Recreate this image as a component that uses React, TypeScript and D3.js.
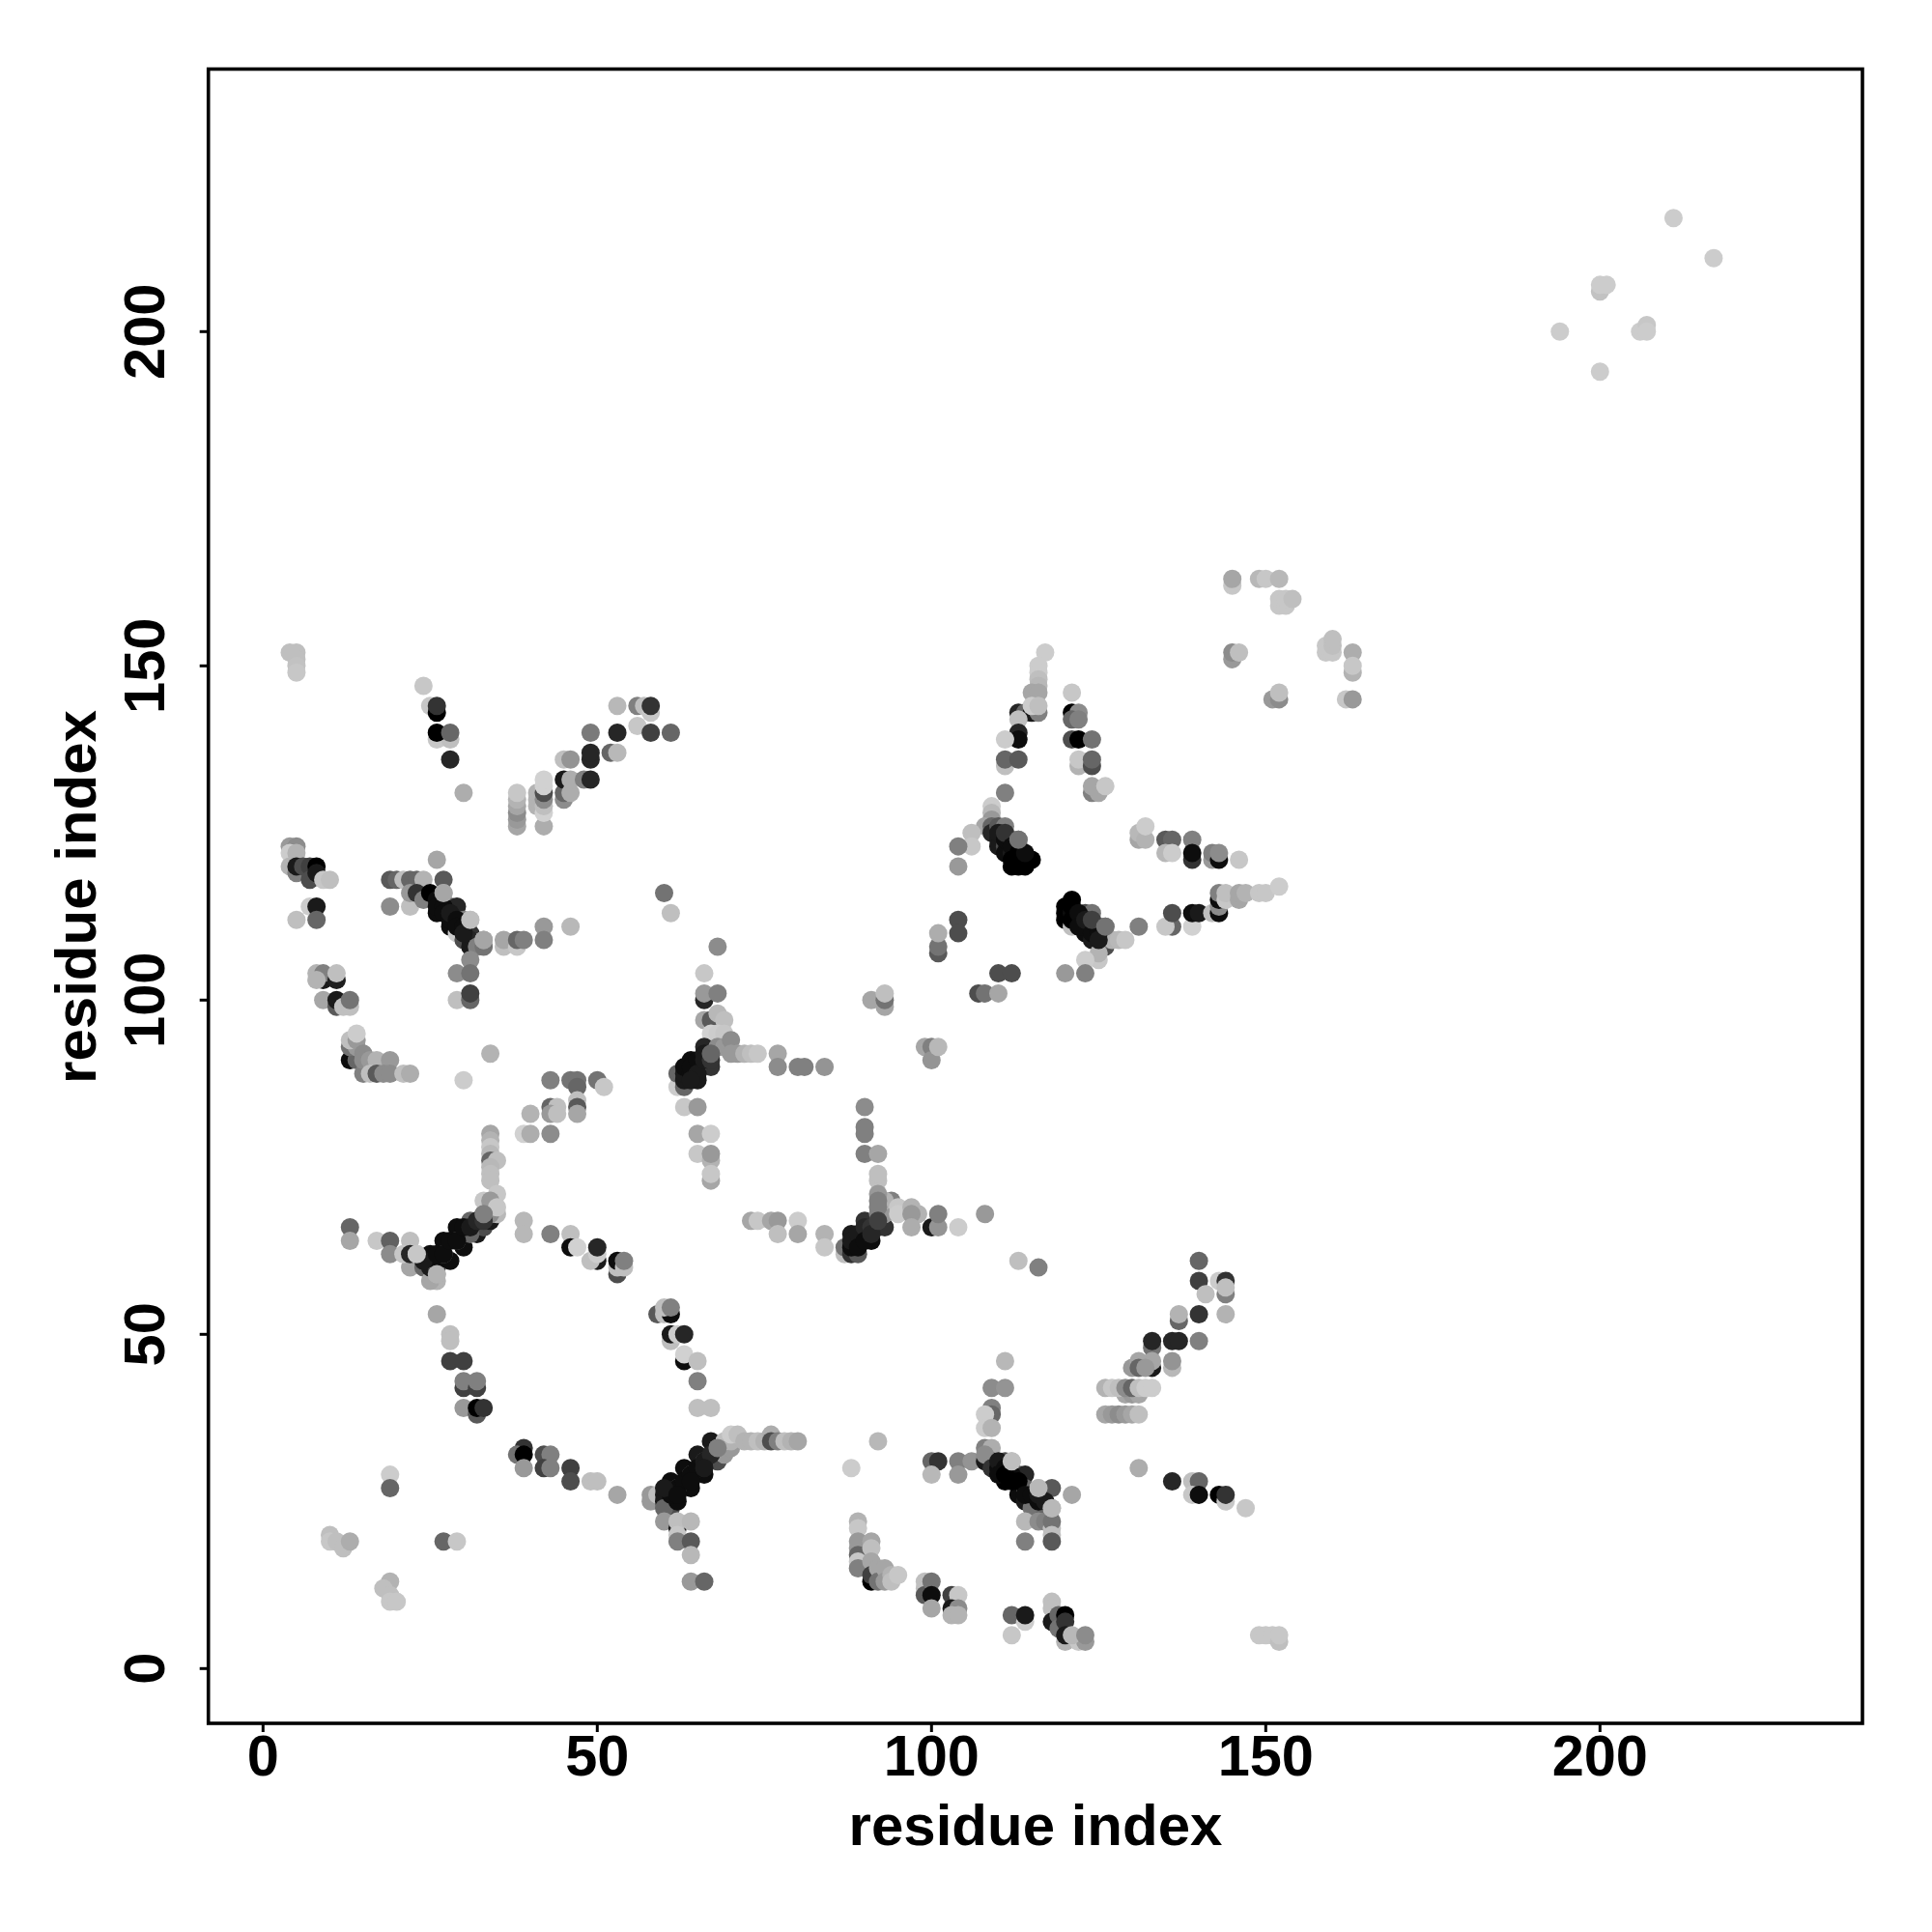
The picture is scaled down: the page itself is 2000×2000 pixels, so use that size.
import React from "react";
import * as d3 from "d3";

type P = [number, number, number];

// residue i, residue j, grey level of the contact (0 = black, 1 = white)
const lowerLeft: P[] = [
[13,66,.4],[13,64,.65],[17,64,.78],[19,64,.38],[19,62,.55],[22,64,.75],[22,60,.65],[21,62,.78],[22,62,.15],[23,62,.78],
[24,60,.4],[26,58,.7],[25,58,.65],[26,59,.7],[25,60,.1],[26,60,.25],[25,62,.05],[27,64,.05],[26,61,.05],[28,61,.05],[29,66,.05],[30,63,.05],[32,65,.1],[31,67,.4],[33,66,.3],[34,67,.1],[33,68,.5],[35,68,.72],[34,68,.55],[34,69,.6],[32,67,.3],[31,65,.4],[29,64,.4],[27,62,.4],
[26,53,.65],[28,50,.75],[28,49,.75],[28,46,.25],[30,46,.25],[30,42,.25],[30,43,.5],[32,42,.25],[32,43,.5],[30,39,.6],[32,38,.35],[32,39,0],[33,39,.2],
[39,67,.72],[39,65,.72],[43,65,.5],[46,65,.75],[46,63,.05],[47,63,.82],[50,61,.1],[49,61,.75],[50,62,.8],[50,63,.15],[53,59,.3],[53,60,.75],[53,61,.05],[54,60,.75],[54,61,.5],
[59,53,.35],[60,53,.75],[61,53,.05],[60,54,.75],[61,54,.5],[61,49,.75],[61,50,.1],[62,50,.8],[63,50,.15],[63,46,.05],[63,47,.82],[65,46,.75],[65,43,.5],[65,39,.75],[67,39,.75],
[39,33,.2],[38,32,.45],[39,32,0],[39,30,.6],[42,32,.3],[43,32,.5],[42,30,.25],[43,30,.5],[46,30,.25],[46,28,.3],[49,28,.75],[50,28,.75],[53,26,.65],
[58,26,.6],[58,25,.6],[59,26,.75],[60,26,.1],[60,25,.1],[61,24,.3],[60,24,.4],[61,28,.05],[62,25,.05],[63,30,.05],[64,27,.05],[65,32,.1],[66,29,.05],[67,34,.1],[68,31,.3],[66,31,.4],[64,29,.4],[62,27,.4],[68,33,.5],[69,32,.6],[70,33,.6],[69,34,.75],[70,34,.7],[70,35,.8],
[60,22,.6],[62,21,.1],[62,22,.75],[64,22,.72],[62,20,.78],[62,19,.5],[64,19,.35],[64,17,.72],[64,13,.6],[66,13,.4],
[19,29,.8],[19,27,.4],[10,20,.75],[10,19,.78],[11,19,.75],[12,18,.75],[13,19,.68],[27,19,.4],[29,19,.78],
[19,13,.7],[18,12,.75],[19,11,.75],[19,10,.78],[20,10,.78],
];

const lowerMiddle: P[] = [
[71,35,.75],[72,34,.7],[73,34,.7],[74,34,.75],[75,34,.7],[76,35,.68],[76,34,.3],[77,34,.5],[78,34,.75],[79,34,.7],[80,34,.65],[92,34,.72],[88,30,.8],
[73,67,.65],[74,67,.78],[76,67,.65],[77,67,.6],[80,67,.8],[77,65,.75],[80,65,.65],[84,65,.7],[84,63,.78],
[87,62,.75],[87,63,.45],[88,62,.2],[89,62,.35],[88,63,.05],[89,64,.1],[88,65,.1],[91,64,.05],[90,67,.2],[92,66,.2],[93,66,.2],[90,65,.3],[92,68,.5],[93,68,.6],[94,70,.5],[93,70,.7],[95,69,.78],[95,68,.8],[97,69,.7],[98,68,.7],[97,68,.6],[97,66,.68],[100,66,.1],[101,66,.58],[101,68,.5],[104,66,.8],[108,68,.6],
[113,61,.75],[116,60,.5],
[100,31,.4],[101,31,.2],[100,29,.72],[104,31,.5],[104,29,.6],[106,31,.58],
[109,42,.55],[111,42,.58],[111,46,.72],[109,39,.5],[109,38,.4],[108,38,.8],[108,36,.8],[109,36,.7],[108,33,.5],[109,33,.68],
[108,31,.1],[109,31,.1],[108,32,.55],[109,30,.2],[110,30,.05],[111,28,.0],[111,31,.3],[112,31,.75],[113,29,.4],[114,29,.15],[113,26,.05],[114,27,.4],[115,25,.05],[116,24,.1],[114,25,.1],[115,24,.45],[116,27,.72],[118,27,.35],[121,26,.65],[117,24,.5],[117,23,.4],[114,22,.72],[116,22,.55],[117,22,.5],[118,21,.75],[118,22,.45],[118,24,.72],[118,20,.75],[114,19,.5],[118,19,.35],
[89,22,.7],[89,21,.78],[89,19,.6],[89,18,.6],[89,17,.4],[89,16,.78],[89,15,.5],[91,19,.65],[91,18,.75],[91,16,.65],[91,13,0],[91,14,.25],[92,15,.65],[92,13,.45],[93,15,.65],[93,13,.6],[94,14,.7],[94,13,.75],[95,14,.78],
[99,13,.75],[99,12,.75],[99,11,.35],[100,13,.45],[100,11,.05],[100,9,.65],[103,11,.25],[104,11,.78],[103,9,.1],[104,9,.55],[103,8,.7],[104,8,.7],
[112,8,.4],[114,7,.8],[114,8,.1],[112,5,.78],[118,10,.75],[118,9,.75],[118,7,.1],[119,8,.4],[120,8,0],[119,6,.45],[120,7,.2],[120,4,.7],[120,5,.1],[122,4,.78],[123,4,.6],[121,5,.72],[123,5,.55],
];

const lowerRight: P[] = [
[140,61,.4],[140,58,.25],[143,58,.8],[144,58,.2],[144,56,.5],[144,57,.75],[141,56,.75],[140,53,.2],[144,53,.7],[137,52,.4],[137,53,.7],[133,48,.45],[133,49,.15],[136,49,.15],[137,49,.15],[140,49,.5],
[136,45,.72],[136,46,.58],[133,45,.1],[133,46,.65],[130,45,.6],[131,46,.65],[131,45,.4],[132,45,.6],
[129,41,.65],[130,41,.6],[131,41,.65],[126,42,.7],[127,42,.78],[128,42,.75],[129,42,.55],[130,42,.4],[131,42,.75],[132,42,.8],[133,42,.8],
[126,38,.65],[127,38,.6],[128,38,.55],[129,38,.6],[130,38,.65],[131,38,.75],
[131,30,.68],[136,28,.15],[139,28,.75],[140,28,.4],[139,26,.78],[140,26,.05],[143,26,0],[144,25,.78],[144,26,.2],[147,24,.78],
[149,5,.78],[150,5,.78],[151,5,.78],[152,4,.75],[152,5,.78],
];

const middleLeft: P[] = [
[4,123,.6],[5,123,.55],[4,122,.8],[5,122,.7],[4,120,.7],[5,119,.5],[5,120,.1],[6,120,.3],[7,120,.25],[8,120,0],[7,118,.3],[8,119,.1],[9,118,.78],[10,118,.75],
[7,114,.8],[8,114,.1],[5,112,.75],[8,112,.4],
[19,118,.35],[20,118,.4],[21,118,.75],[22,118,.4],[23,118,.4],[24,118,.7],[26,121,.65],[27,118,.35],[19,114,.55],[22,114,.75],
[22,116,.6],[23,116,.2],[24,115,.5],[25,116,0],[27,116,.65],[28,114,.4],[29,114,.15],[26,113,.05],[28,111,.05],[29,110,.8],[30,112,.5],[31,112,.75],[31,110,.2],[30,109,.3],[31,109,.15],[31,108,.1],[32,108,.5],[33,108,.45],[33,109,.65],[31,106,.55],
[29,104,.55],[31,104,.45],[29,100,.75],[31,100,.4],[31,101,.25],
[36,108,.75],[36,109,.65],[38,108,.78],[38,109,.4],[39,109,.5],[42,111,.6],[42,109,.5],[46,111,.72],[60,116,.45],[61,113,.75],
[8,104,.7],[9,103,.1],[9,104,.5],[11,103,.12],[11,104,.75],[8,103,.7],[9,100,.65],[11,99,.35],[11,100,.1],[12,99,.75],[13,99,.75],[13,100,.45],
[13,91,.05],[14,91,.4],[15,89,.5],[13,93,.45],[14,93,.6],[13,94,.75],[14,94,.6],[14,95,.8],[15,92,.55],[15,91,.55],[16,91,.6],[17,91,.7],[19,91,.6],[16,89,.75],[17,89,.35],[18,89,.55],[19,89,.55],[21,89,.75],[22,89,.68],
[34,92,.7],[30,88,.8],
[43,88,.5],[46,88,.45],[47,88,.45],[47,87,.4],[50,88,.45],[51,87,.78],[47,85,.75],[47,84,.35],[47,83,.65],[40,83,.7],[43,84,.4],[44,84,.75],[43,83,.6],[44,83,.75],[39,80,.82],[40,80,.68],[43,80,.55],
[34,80,.65],[34,79,.7],[34,78,.78],[34,77,.72],[34,76,.4],[35,76,.75],[34,75,.72],[34,74,.75],[34,73,.75],[35,71,.78],[33,70,.78],[34,70,.6],[35,69,.78],
];

const middleCentre: P[] = [
[68,108,.55],[66,104,.78],[66,100,.15],[66,101,.6],[68,101,.5],[66,97,.65],[67,97,.35],[68,98,.72],[69,97,.75],[67,95,.82],[68,95,.8],[69,95,.78],
[62,87,.8],[62,89,.4],[63,87,.4],[63,88,.1],[63,89,.1],[64,91,.05],[65,88,.1],[66,93,.15],[67,90,.2],[65,90,.4],[67,92,.4],[68,93,.55],[69,93,.6],[70,94,.55],[71,92,.6],[70,92,.6],[72,92,.7],[73,92,.75],[74,92,.78],[77,92,.65],[77,90,.55],[80,90,.5],[81,90,.5],[84,90,.58],
[63,84,.78],[65,84,.6],[65,80,.65],[67,80,.8],[65,77,.78],[67,76,.7],[67,77,.6],[67,73,.65],[67,74,.78],
[91,100,.65],[93,99,.65],[93,100,.45],[93,101,.75],[99,93,.65],[100,93,.5],[100,91,.58],[101,93,.72],
[90,84,.55],[90,81,.5],[90,80,.5],[90,77,.5],[92,77,.65],[92,73,.75],[92,74,.75],[92,71,.6],[92,70,.5],[92,69,.5],
[101,107,.35],[101,108,.45],[101,110,.68],[104,112,.3],[104,110,.3],[110,104,.3],[112,104,.3],[107,101,.3],[108,101,.45],[110,101,.65],
];

const upperLeft: P[] = [
[4,152,.75],[5,152,.75],[5,151,.75],[5,150,.76],[5,149,.78],[24,147,.78],[25,144,.78],[26,143,0],[26,144,.2],[26,139,.78],[28,139,.75],[26,140,0],[28,140,.4],[28,136,.15],[30,131,.68],
[38,126,.65],[38,127,.6],[38,128,.55],[38,129,.65],[38,130,.7],[38,131,.78],
[41,129,.7],[41,130,.7],[41,131,.7],[42,126,.68],[42,128,.82],[42,129,.75],[42,130,.55],[42,131,.3],[42,132,.82],[42,133,.82],
[45,130,.55],[45,131,.4],[45,133,.1],[45,136,.75],[46,136,.58],[46,131,.68],[46,133,.68],[48,133,.5],[49,133,.15],[49,136,.15],[49,137,.15],[49,140,.48],[52,137,.4],[53,137,.72],[53,140,.15],[53,144,.72],
[56,144,.5],[57,144,.75],[58,143,.78],[58,144,.2],[56,141,.78],[58,140,.25],[61,140,.4],
];

const upperCentre: P[] = [
[117,152,.8],[116,150,.8],[116,149,.8],[116,148,.75],[116,147,.72],[115,146,.65],[116,146,.65],[113,143,.15],[114,143,.4],[115,143,.1],[116,143,.5],[113,142,.75],[115,144,.8],[116,144,.75],
[113,140,.15],[113,139,.05],[111,139,.8],[111,135,.75],[111,136,.4],[113,136,.35],[111,131,.5],
[109,129,.8],[109,128,.72],[109,127,.6],[108,126,.65],[109,126,.4],[106,125,.75],[106,123,.78],[104,123,.5],[104,120,.6],
[109,125,.15],[110,126,.35],[111,126,.5],[110,124,.1],[112,124,.55],[113,124,.45],[110,123,.1],[111,123,.3],[113,123,.25],[111,122,.05],[112,122,.1],[113,121,0],[115,121,0],[112,120,0],[113,120,0],[114,120,0],
[121,146,.78],[121,143,0],[122,143,.55],[121,142,.4],[122,142,.5],[121,139,.3],[122,139,0],[124,139,.45],[122,135,.7],[122,136,.78],[124,135,.3],[124,136,.4],[124,131,.5],[125,131,.65],[124,132,.65],[126,132,.78],
[120,112,0],[120,113,0],[120,114,0],[121,115,0],[121,113,.05],[122,112,.1],[121,111,.75],[123,113,.3],[124,113,.45],[123,111,.1],[123,110,.05],[124,109,.1],[124,111,.2],[125,111,.3],[126,111,.45],[126,108,.3],[126,109,.4],[127,109,.7],[128,109,.72],[129,109,.78],[131,111,.5],
[125,106,.78],[125,107,.7],[123,106,.8],[120,104,.6],[123,104,.5],
];

const upperRight: P[] = [
[131,124,.65],[131,125,.72],[132,124,.7],[132,126,.8],[135,124,.35],[136,124,.4],[139,124,.5],[135,122,.72],[136,122,.8],[139,121,.2],[139,122,.05],[142,121,.6],[142,122,.5],[143,121,.05],[143,122,.55],[146,121,.78],
[136,111,.4],[135,111,.78],[136,113,.3],[139,111,.82],[139,113,.05],[140,113,.1],[142,113,.75],[143,113,.05],[143,114,.55],[143,115,.05],[143,116,.5],[144,115,.78],[144,116,.75],[146,115,.65],[146,116,.65],[147,116,.7],[149,116,.78],[150,116,.78],[152,117,.8],
[145,162,.78],[145,163,.65],[149,163,.72],[150,163,.78],[152,163,.72],[152,159,.78],[152,160,.78],[153,159,.78],[153,160,.78],[154,160,.75],
[145,151,.6],[145,152,.55],[146,152,.75],[151,145,.6],[152,145,.55],[152,146,.75],
[159,152,.78],[159,153,.78],[160,152,.78],[160,153,.75],[160,154,.75],[163,152,.68],[163,149,.7],[163,150,.78],[162,145,.78],[163,145,.6],
[211,217,.8],[217,211,.8],[194,200,.8],[200,194,.8],[200,206,.76],[200,207,.8],[201,207,.8],[206,200,.8],[207,201,.78],[207,200,.8],
];

// dense dark runs along the diagonal bands
const diagonalCores: P[] = [
[24,61,.1],[26,62,.05],[27,62,.05],[28,64,.05],[29,64,.05],[30,66,.05],[31,66,.1],[32,67,.15],[33,67,.2],
[61,26,.05],[62,27,.05],[63,28,.05],[64,29,.05],[65,30,.05],[66,31,.1],[67,32,.15],[60,27,.1],[62,26,.05],[64,28,.05],[66,30,.1],
[88,64,.1],[89,65,.1],[90,66,.15],[91,66,.2],[89,63,.05],[90,64,.05],[91,65,.15],[92,67,.25],
[110,31,.1],[111,30,.05],[112,29,.05],[112,28,0],[113,28,0],[114,26,.05],[115,26,.05],[116,25,.05],[116,26,.1],[117,25,.1],[110,29,.05],[111,29,0],
[110,125,.1],[111,124,.05],[111,125,.2],[112,123,.05],[113,122,0],[112,121,0],[114,121,0],[114,122,.05],
[121,114,0],[121,112,0],[122,113,.05],[122,111,.05],[123,112,.1],[124,110,.05],[125,110,.05],[125,109,.1],[124,112,.25],
[26,115,.05],[26,114,.05],[27,114,.05],[27,113,.05],[28,112,.05],[28,113,.1],[29,112,.05],[29,111,.05],[30,111,.05],[30,110,.1],
[63,90,.05],[64,89,.05],[64,90,.05],[65,91,.05],[65,89,.1],[66,92,.1],[66,91,.1],[67,91,.2],[64,88,.1],
];

// lighter contacts that sit on top of those bands
const bandHighlights: P[] = [
[31,112,.75],[33,109,.65],[27,116,.65],[112,31,.75],[116,27,.72],[118,24,.72],[23,62,.78],[26,59,.7],[33,68,.5],[68,33,.5],[113,124,.45],[126,111,.45],[67,92,.4],
];

const clusters = [lowerLeft, lowerMiddle, lowerRight, middleLeft, middleCentre, upperLeft, upperCentre, upperRight, diagonalCores, bandHighlights];
const xTicks = [0, 50, 100, 150, 200];
const yTicks = [0, 50, 100, 150, 200];
const axisLabel = "residue index";

const frame = { left: 215.7, right: 1928, top: 71.5, bottom: 1784 };
const FONT = "'Liberation Sans', Arial, sans-serif";

export default function App() {
  const x = d3.scaleLinear().domain([0, 200]).range([272.3, 1656.3]);
  const y = d3.scaleLinear().domain([0, 200]).range([1727.3, 343.3]);
  const grey = (g: number) => d3.rgb(g * 255, g * 255, g * 255).formatHex();
  return (
    <svg width={2000} height={2000} style={{ position: "absolute", left: 0, top: 0 }}>
      <rect width={2000} height={2000} fill="#fff" />
      {clusters.map((c, i) => (
        <g key={i}>
          {c.map(([a, b, g], j) => (
            <circle key={j} cx={x(a)} cy={y(b)} r={9.5} fill={grey(g)} />
          ))}
        </g>
      ))}
      <rect x={frame.left} y={frame.top} width={frame.right - frame.left} height={frame.bottom - frame.top} fill="none" stroke="#000" strokeWidth={3.6} />
      {xTicks.map((t) => (
        <g key={t}>
          <line x1={x(t)} x2={x(t)} y1={frame.bottom} y2={frame.bottom + 9} stroke="#000" strokeWidth={3} />
          <text x={x(t)} y={1838} textAnchor="middle" fontFamily={FONT} fontWeight="bold" fontSize={59.5}>{t}</text>
        </g>
      ))}
      {yTicks.map((t) => (
        <g key={t}>
          <line x1={frame.left - 9} x2={frame.left} y1={y(t)} y2={y(t)} stroke="#000" strokeWidth={3} />
          <text transform={`translate(170,${y(t)}) rotate(-90)`} textAnchor="middle" fontFamily={FONT} fontWeight="bold" fontSize={59.5}>{t}</text>
        </g>
      ))}
      <text x={1072} y={1910} textAnchor="middle" fontFamily={FONT} fontWeight="bold" fontSize={60}>{axisLabel}</text>
      <text transform="translate(99,928.5) rotate(-90)" textAnchor="middle" fontFamily={FONT} fontWeight="bold" fontSize={60}>{axisLabel}</text>
    </svg>
  );
}
